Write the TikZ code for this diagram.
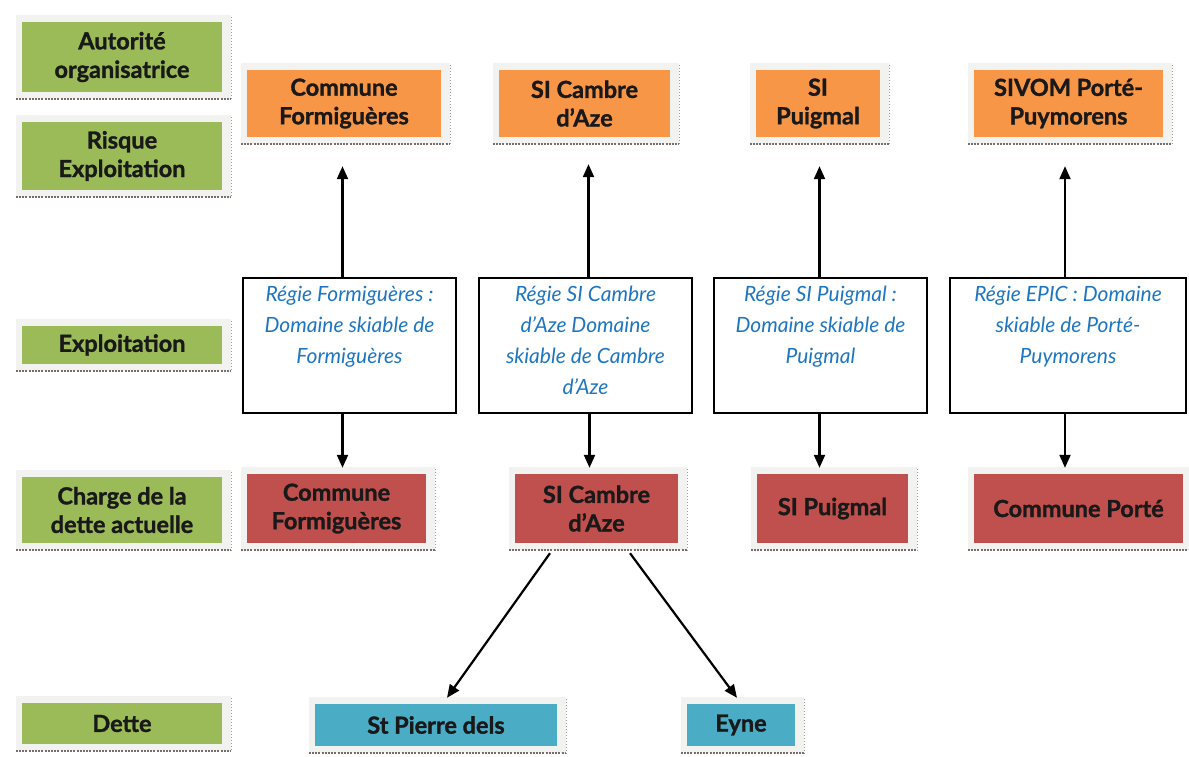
\documentclass[tikz,border=0pt]{standalone}
\usepackage{fontspec}
\setmainfont{Lato}[BoldFeatures={FakeBold=1.3}]
\usetikzlibrary{arrows.meta,backgrounds}
\definecolor{cgreen}{RGB}{155,187,89}
\definecolor{corange}{RGB}{247,150,70}
\definecolor{cred}{RGB}{192,80,77}
\definecolor{cblue}{RGB}{75,172,198}
\definecolor{ctext}{RGB}{31,118,192}
\definecolor{cframe}{RGB}{242,242,240}
\definecolor{cdash}{RGB}{120,110,105}
\newcommand\mydrawframe[1]{%
  \fill[cframe] ([xshift=-6pt,yshift=7pt]#1.north west) rectangle ([xshift=9pt,yshift=-7pt]#1.south east);
  \draw[cdash,line width=1.8pt,dash pattern=on 2pt off 1.2pt] ([xshift=-6pt,yshift=-7pt]#1.south west) -- ([xshift=9pt,yshift=-7pt]#1.south east);
  \draw[cdash!70,line width=0.9pt,dash pattern=on 1pt off 2pt] ([xshift=9pt,yshift=5pt]#1.north east) -- ([xshift=9pt,yshift=-7pt]#1.south east);
}
\tikzset{
  lbl/.style={inner sep=0pt, align=center, font=\fontsize{23.5}{28.5}\selectfont\bfseries, text=black!90},
  gbox/.style={lbl, fill=cgreen, minimum width=200pt},
  obox/.style={lbl, fill=corange, minimum height=67pt},
  rbox/.style={lbl, fill=cred, minimum height=69pt},
  bluebox/.style={lbl, fill=cblue, minimum height=42pt},
  regie/.style={draw=black, line width=1.8pt, fill=white, minimum height=135pt, inner sep=0pt},
  regietext/.style={inner sep=0pt, align=center, text=ctext, font=\fontsize{21}{31}\selectfont\itshape},
  arr/.style={line width=2.2pt, -{Triangle[length=13pt,width=11pt]}},
}
\begin{document}
\begin{tikzpicture}[x=1pt,y=-1pt]
\useasboundingbox (0,0) rectangle (1189,756);
% left column
\node[gbox, minimum height=70pt] (G1) at (122,57) {Autorité\\organisatrice};
\node[gbox, minimum height=68pt] (G2) at (122,156) {Risque\\Exploitation};
\node[gbox, minimum height=38pt] (G3) at (122,345) {Exploitation};
\node[gbox, minimum height=66pt] (G4) at (122,510) {Charge de la\\dette actuelle};
\node[gbox, minimum height=41pt] (G5) at (122,723.5) {Dette};
% top row
\node[obox, minimum width=194pt] (O1) at (344,103.5) {Commune\\Formiguères};
\node[obox, minimum width=171pt] (O2) at (584.5,103.5) {SI Cambre\\d’Aze};
\node[obox, minimum width=124pt] (O3) at (818,103.5) {SI\\Puigmal};
\node[obox, minimum width=189pt] (O4) at (1068.5,103.5) {SIVOM Porté-\\Puymorens};
% regie boxes
\node[regie, minimum width=213pt] (R1) at (349.5,345.5) {};
\node[regie, minimum width=213pt] (R2) at (585.5,345.5) {};
\node[regie, minimum width=213pt] (R3) at (820.5,345.5) {};
\node[regie, minimum width=236pt] (R4) at (1068,345.5) {};
\node[regietext, anchor=north] (T1) at ([yshift=-9pt]R1.north) {Régie Formiguères :\\Domaine skiable de\\Formiguères};
\node[regietext, anchor=north] (T2) at ([yshift=-9pt]R2.north) {Régie SI Cambre\\d’Aze Domaine\\skiable de Cambre\\d’Aze};
\node[regietext, anchor=north] (T3) at ([yshift=-9pt]R3.north) {Régie SI Puigmal :\\Domaine skiable de\\Puigmal};
\node[regietext, anchor=north] (T4) at ([yshift=-9pt]R4.north) {Régie EPIC : Domaine\\skiable de Porté-\\Puymorens};
% debt row
\node[rbox, minimum width=179pt] (D1) at (336.5,508.5) {Commune\\Formiguères};
\node[rbox, minimum width=163pt] (D2) at (596.5,508.5) {SI Cambre\\d’Aze};
\node[rbox, minimum width=151pt] (D3) at (832.5,508.5) {SI Puigmal};
\node[rbox, minimum width=209pt] (D4) at (1078.5,508.5) {Commune Porté};
% bottom row
\node[bluebox, minimum width=242pt] (B1) at (436,725) {St Pierre dels};
\node[bluebox, minimum width=108pt] (B2) at (741,725) {Eyne};
% frames
\begin{scope}[on background layer]
\foreach \n in {G1,G2,G3,G4,G5,O1,O2,O3,O4,D1,D2,D3,D4,B1,B2}{\mydrawframe{\n}}
\end{scope}
% arrows up
\draw[arr, shorten >=29pt] ([xshift=-7pt]R1.north) -- ([xshift=-7pt]R1.north |- O1.south);
\draw[arr, shorten >=27pt] ([xshift=3pt]R2.north) -- ([xshift=3pt]R2.north |- O2.south);
\draw[arr, shorten >=29pt] ([xshift=-1pt]R3.north) -- ([xshift=-1pt]R3.north |- O3.south);
\draw[arr, shorten >=29pt] ([xshift=-3pt]R4.north) -- ([xshift=-3pt]R4.north |- O4.south);
% arrows down
\draw[arr, shorten >=6pt] ([xshift=-7pt]R1.south) -- ([xshift=-7pt]R1.south |- D1.north);
\draw[arr, shorten >=6pt] ([xshift=4pt]R2.south) -- ([xshift=4pt]R2.south |- D2.north);
\draw[arr, shorten >=6pt] ([xshift=-1pt]R3.south) -- ([xshift=-1pt]R3.south |- D3.north);
\draw[arr, shorten >=6pt] ([xshift=-3pt]R4.south) -- ([xshift=-3pt]R4.south |- D4.north);
% diagonal arrows
\draw[arr] ([xshift=-46.5pt,yshift=-10pt]D2.south) -- ([xshift=11pt,yshift=6pt]B1.north);
\draw[arr] ([xshift=33.5pt,yshift=-10pt]D2.south) -- ([xshift=-4pt,yshift=6pt]B2.north);
\end{tikzpicture}
\end{document}
